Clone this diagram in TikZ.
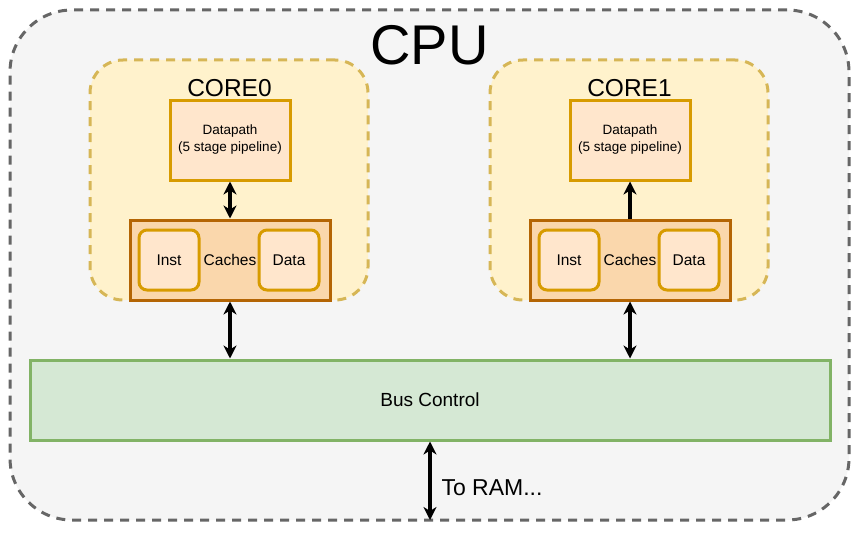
\documentclass[tikz,border=0pt]{standalone}
\usepackage{fontspec}
\setmainfont{Liberation Sans}
\usetikzlibrary{arrows.meta}
\definecolor{cpufill}{HTML}{F5F5F5}
\definecolor{cpuline}{HTML}{666666}
\definecolor{corefill}{HTML}{FFF2CC}
\definecolor{coreline}{HTML}{D6B656}
\definecolor{dpfill}{HTML}{FFE6CC}
\definecolor{dpline}{HTML}{D79B00}
\definecolor{cachefill}{HTML}{FAD7AC}
\definecolor{cacheline}{HTML}{B46504}
\definecolor{busfill}{HTML}{D5E8D4}
\definecolor{busline}{HTML}{82B366}
\tikzset{
  box/.style={inner sep=0pt, line width=3pt},
  cpubox/.style={box, draw=cpuline, fill=cpufill, dash pattern=on 9pt off 7pt, rounded corners=62pt, minimum width=839pt, minimum height=510pt},
  corebox/.style={box, draw=coreline, fill=corefill, dash pattern=on 9pt off 7pt, rounded corners=33pt, minimum width=278pt, minimum height=240pt},
  dpbox/.style={box, draw=dpline, fill=dpfill, minimum width=120pt, minimum height=80pt, align=center, font=\fontsize{13.5}{17}\selectfont},
  cachebox/.style={box, draw=cacheline, fill=cachefill, minimum width=200pt, minimum height=80pt, font=\fontsize{15.5}{18}\selectfont},
  subbox/.style={box, draw=dpline, fill=dpfill, rounded corners=8pt, minimum width=60pt, minimum height=60pt, font=\fontsize{15.5}{18}\selectfont},
  busbox/.style={box, draw=busline, fill=busfill, minimum width=800pt, minimum height=80pt, font=\fontsize{19}{22}\selectfont},
  tip/.tip={Stealth[length=13pt,width=13pt,inset=4pt]},
  conn/.style={line width=3.2pt, tip-tip},
  conn1/.style={line width=3.2pt, -tip},
}
\begin{document}
\begin{tikzpicture}[x=1pt,y=-1pt]
\useasboundingbox (0,0) rectangle (864,543);
\node[cpubox] (cpu) at (429.5,265) {};
\node[anchor=base, font=\fontsize{56}{60}\selectfont] (cpulbl) at (429.5,65) {CPU};

% CORE0
\node[corebox] (core0) at (229,180) {};
\node[anchor=base, font=\fontsize{24.5}{28}\selectfont] (core0lbl) at (229.5,96) {CORE0};
\node[dpbox] (dp0) at (230,140) {Datapath\\(5 stage pipeline)};
\node[cachebox] (c0) at (230,260) {Caches};
\node[subbox] (inst0) at (169,260) {Inst};
\node[subbox] (data0) at (289,260) {Data};

% CORE1
\node[corebox] (core1) at (629,180) {};
\node[anchor=base, font=\fontsize{24.5}{28}\selectfont] (core1lbl) at (629.5,96) {CORE1};
\node[dpbox] (dp1) at (630,140) {Datapath\\(5 stage pipeline)};
\node[cachebox] (c1) at (630,260) {Caches};
\node[subbox] (inst1) at (569,260) {Inst};
\node[subbox] (data1) at (689,260) {Data};

% Bus
\node[busbox] (bus) at (430,400) {Bus Control};

\coordinate (ram) at (430,520);
\node[anchor=west, font=\fontsize{23}{26}\selectfont] (ramlbl) at (438,488) {To RAM...};

\draw[conn] (dp0.south) -- (c0.north);
\draw[conn1] (c1.north) -- (dp1.south);
\draw[conn] (c0.south) -- (c0.south |- bus.north);
\draw[conn] (c1.south) -- (c1.south |- bus.north);
\draw[conn] (bus.south) -- (ram);
\end{tikzpicture}
\end{document}
